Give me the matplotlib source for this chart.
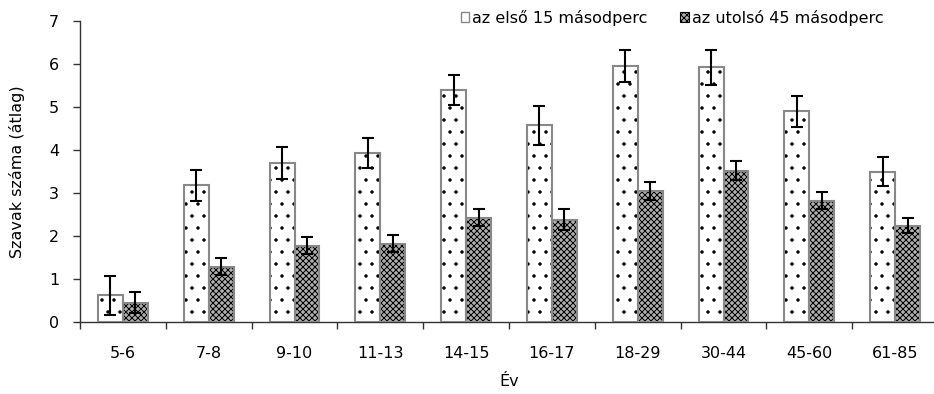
import matplotlib
matplotlib.use("Agg")
import matplotlib.pyplot as plt
from matplotlib.patches import Patch
import numpy as np

categories = ["5-6", "7-8", "9-10", "11-13", "14-15", "16-17", "18-29", "30-44", "45-60", "61-85"]
first15 = [0.62, 3.18, 3.69, 3.94, 5.40, 4.57, 5.96, 5.92, 4.90, 3.50]
first15_err = [0.45, 0.36, 0.37, 0.35, 0.35, 0.46, 0.37, 0.40, 0.36, 0.34]
last45 = [0.45, 1.29, 1.77, 1.82, 2.43, 2.38, 3.05, 3.52, 2.82, 2.24]
last45_err = [0.25, 0.20, 0.20, 0.20, 0.19, 0.24, 0.21, 0.22, 0.20, 0.18]
series_labels = ["az első 15 másodperc", "az utolsó 45 másodperc"]

DPI = 72
k = 100 / DPI  # sizes below were chosen for 100 dpi
W, H = 934, 394
plt.rcParams['font.family'] = ['DejaVu Sans']
plt.rcParams['hatch.linewidth'] = 1.0
fig = plt.figure(figsize=(W / DPI, H / DPI), dpi=DPI)

ax = fig.add_axes([80 / W, 1 - 322 / H, (938 - 80) / W, (322 - 21) / H])

x = np.arange(len(categories))
bw = 0.29
edge = '#888888'
fs = 11.5 * k
check_face = '#b0b0b0'

# first series: white with sparse dots
ax.bar(x - bw / 2, first15, bw, color='white', edgecolor='black', linewidth=0, hatch='.', zorder=2)
ax.bar(x - bw / 2, first15, bw, fill=False, edgecolor=edge, linewidth=1.5 * k, zorder=3)
# second series: checkered
ax.bar(x + bw / 2, last45, bw, color=check_face, edgecolor='black', linewidth=0, hatch='xxxx', zorder=2)
ax.bar(x + bw / 2, last45, bw, fill=False, edgecolor=edge, linewidth=1.5 * k, zorder=3)

ax.errorbar(x - bw / 2, first15, yerr=first15_err, fmt='none', ecolor='black',
            elinewidth=1.5 * k, capsize=4.5 * k, capthick=1.5 * k, zorder=4)
ax.errorbar(x + bw / 2, last45, yerr=last45_err, fmt='none', ecolor='black',
            elinewidth=1.5 * k, capsize=4.5 * k, capthick=1.5 * k, zorder=4)

ax.set_xlim(-0.5, len(categories) - 0.5)
ax.set_ylim(0, 7)
ax.set_yticks(range(0, 8))
ax.set_xticks(x)
ax.set_xticklabels(categories)
ax.set_xticks(np.arange(-0.5, len(categories)), minor=True)
ax.tick_params(axis='x', which='major', length=0, pad=17 * k, labelsize=fs, colors='black')
ax.tick_params(axis='x', which='minor', length=5 * k, width=1 * k, color='#333333', direction='out')
ax.tick_params(axis='y', length=5 * k, width=1 * k, color='#333333', labelsize=fs, pad=10 * k)

for s in ['top', 'right']:
    ax.spines[s].set_visible(False)
for s in ['left', 'bottom']:
    ax.spines[s].set_color('#333333')
    ax.spines[s].set_linewidth(1 * k)

ax.set_ylabel("Szavak száma (átlag)", fontsize=fs, labelpad=17 * k)
ax.set_xlabel("Év", fontsize=fs, labelpad=10 * k)

handles = [Patch(facecolor='white', edgecolor=edge, linewidth=1.0 * k),
           Patch(facecolor=check_face, edgecolor='black', hatch='xxxx', linewidth=0.8 * k)]
fig.legend(handles, series_labels, loc='upper right', bbox_to_anchor=(893 / W, 1.0),
           ncol=2, frameon=False, fontsize=fs, handlelength=0.55, handleheight=0.55,
           handletextpad=0.2, columnspacing=2.0, borderaxespad=0.2)

fig.savefig("out.png", dpi=DPI)
